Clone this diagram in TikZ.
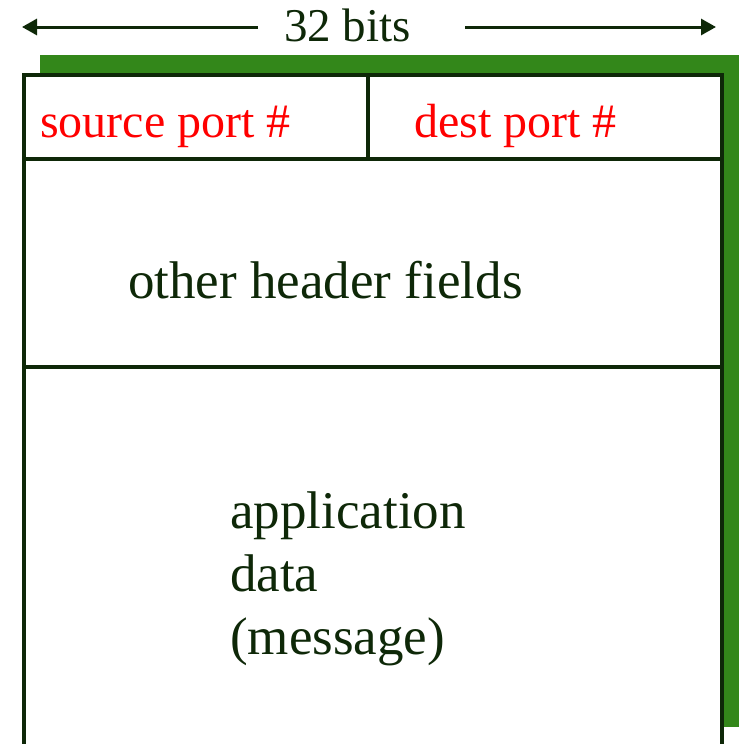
\documentclass[tikz,border=0pt]{standalone}
\usepackage{fontspec}
\setmainfont{Liberation Serif}
\usetikzlibrary{arrows.meta}
\definecolor{ink}{RGB}{14,40,8}
\definecolor{shadowgreen}{RGB}{51,135,26}
\definecolor{portred}{RGB}{255,0,0}
\tikzset{
  frame/.style={draw=ink, line width=4pt},
  dimarrow/.style={draw=ink, line width=3pt, -{Triangle[length=15pt,width=16pt]}},
  darktext/.style={text=ink, font=\fontsize{53}{62}\selectfont, inner sep=0pt, anchor=base west},
  redtext/.style={text=portred, font=\fontsize{48}{56}\selectfont, inner sep=0pt, anchor=base west},
  bitstext/.style={text=ink, font=\fontsize{47}{56}\selectfont, inner sep=0pt, anchor=base west}
}
\begin{document}
\begin{tikzpicture}[x=1pt,y=-1pt]
\useasboundingbox (0,0) rectangle (740,744);
\clip (0,0) rectangle (740,744);
% green shadow
\fill[shadowgreen] (40,55) rectangle (739,727);
% white packet body
\fill[white] (24,75) rectangle (722,760);
% frame
\draw[frame] (24,770) -- (24,75) -- (722,75) -- (722,770);
\draw[frame] (24,159) -- (722,159);
\draw[frame] (24,367) -- (722,367);
\draw[frame] (368,75) -- (368,159);
% width label and arrows
\node[bitstext] (bits) at (284,41) {32 bits};
\coordinate (lstart) at (258,27);
\coordinate (lend) at (22,27);
\coordinate (rstart) at (465,27);
\coordinate (rend) at (716,27);
\draw[dimarrow] (lstart) -- (lend);
\draw[dimarrow] (rstart) -- (rend);
% fields
\node[redtext] (src) at (40,137) {source port \#};
\node[redtext] (dst) at (414,137) {dest port \#};
\node[darktext] (other) at (128,298) {other header fields};
\node[darktext] (app) at (230,528) {application};
\node[darktext] (data) at (230,591) {data};
\node[darktext] (msg) at (230,654) {(message)};
\end{tikzpicture}
\end{document}
